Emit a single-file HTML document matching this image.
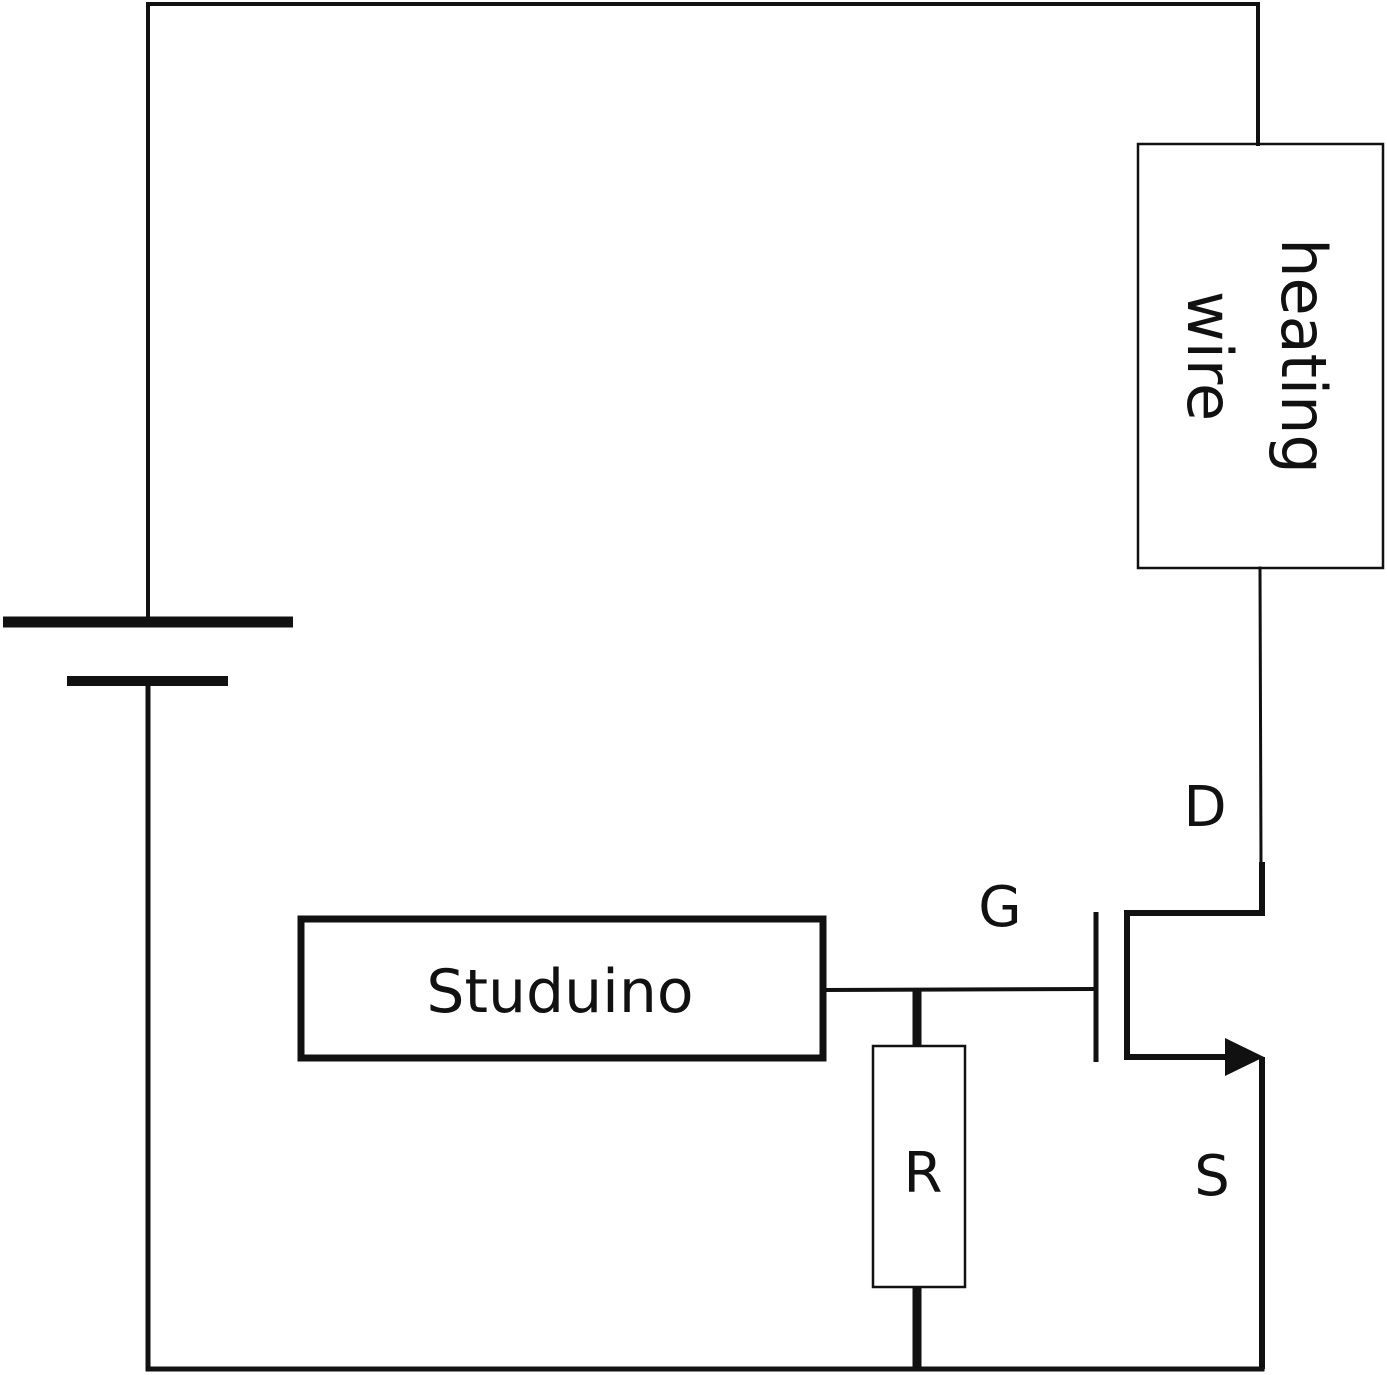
<!DOCTYPE html>
<html><head><meta charset="utf-8"><style>
html,body{margin:0;padding:0;background:#fff;}
svg{display:block;}
text{font-family:"DejaVu Sans","Liberation Sans",sans-serif;fill:#111;}
</style></head><body>
<svg width="1387" height="1375" viewBox="0 0 1387 1375" xmlns="http://www.w3.org/2000/svg">
<g stroke="#111" fill="none" stroke-linecap="square">
  <polyline points="148,617 148,4 1258,4 1258,144" stroke-width="4"/>
  <line x1="148" y1="687" x2="148" y2="1369" stroke-width="5"/>
  <line x1="148" y1="1369" x2="1262" y2="1369" stroke-width="5"/>
  <line x1="3" y1="622" x2="293" y2="622" stroke-width="11" stroke-linecap="butt"/>
  <line x1="67" y1="681" x2="228" y2="681" stroke-width="10" stroke-linecap="butt"/>
  <rect x="1138" y="144" width="245" height="424" stroke-width="2.5"/>
  <line x1="1260" y1="568" x2="1261" y2="865" stroke-width="3"/>
  <polyline points="1262,862 1262,913 1127,913 1127,1057 1230,1057" stroke-width="6" stroke-linecap="butt" stroke-linejoin="miter"/>
  <line x1="1096" y1="912" x2="1096" y2="1062" stroke-width="5" stroke-linecap="butt"/>
  <line x1="1262" y1="1057" x2="1262" y2="1369" stroke-width="6" stroke-linecap="butt"/>
  <line x1="824" y1="990" x2="1094" y2="989" stroke-width="4" stroke-linecap="butt"/>
  <rect x="301" y="919" width="522" height="139" stroke-width="7"/>
  <line x1="917" y1="990" x2="917" y2="1046" stroke-width="9" stroke-linecap="butt"/>
  <rect x="873" y="1046" width="92" height="241" stroke-width="2.5"/>
  <line x1="917" y1="1287" x2="917" y2="1369" stroke-width="9" stroke-linecap="butt"/>
</g>
<polygon points="1225,1038 1264,1057 1225,1076" fill="#111"/>
<text x="560" y="1012" font-size="60" text-anchor="middle">Studuino</text>
<text x="923" y="1192" font-size="56" text-anchor="middle">R</text>
<text x="1000" y="926" font-size="56" text-anchor="middle">G</text>
<text x="1205" y="826" font-size="56" text-anchor="middle">D</text>
<text x="1212" y="1195" font-size="56" text-anchor="middle">S</text>
<g transform="translate(1260,356) rotate(90)">
  <text x="0" y="-22" font-size="62" text-anchor="middle">heating</text>
  <text x="0" y="72" font-size="62" text-anchor="middle">wire</text>
</g>
</svg>
</body></html>
